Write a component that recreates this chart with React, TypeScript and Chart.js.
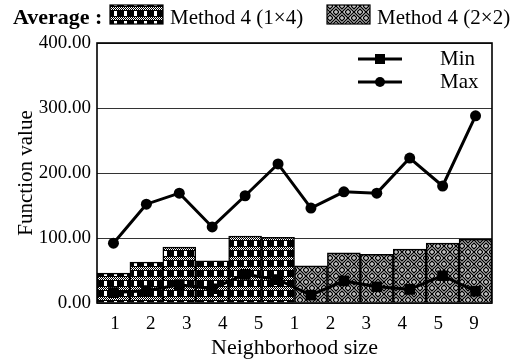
import React, { useEffect, useRef } from 'react';
import { Chart, registerables } from 'chart.js';

Chart.register(...registerables);

// ---- Data ----
const categories = ['1', '2', '3', '4', '5', '9', '1', '2', '3', '4', '5', '9'];
const barMethod = ['1x4', '1x4', '1x4', '1x4', '1x4', '1x4', '2x2', '2x2', '2x2', '2x2', '2x2', '2x2'];
const averageValues = [46, 63, 86, 65, 103, 101, 57, 77, 75, 83, 92, 98];
const minValues = [16, 19, 28, 22, 44, 36, 12, 34, 25, 21, 42, 18];
const maxValues = [92, 152, 169, 117, 165, 214, 146, 171, 169, 223, 180, 288];
const tickLabels = ['1', '2', '3', '4', '5', '1', '2', '3', '4', '5', '9'];
const yMin = 0;
const yMax = 400;
const yStep = 100;

const SERIF = '"Liberation Serif", "Times New Roman", serif';

function makeChecker(): CanvasPattern {
  const c = document.createElement('canvas');
  c.width = 10;
  c.height = 10;
  const g = c.getContext('2d')!;
  g.fillStyle = '#000';
  g.fillRect(0, 0, 10, 10);
  g.fillStyle = '#fff';
  g.fillRect(4, 1, 3, 5);
  for (let y = 7; y < 10; y++) {
    for (let x = 0; x < 10; x++) {
      if ((x + y) % 2 === 0) g.fillRect(x, y, 1, 1);
    }
  }
  return g.createPattern(c, 'repeat')!;
}

function makeWeave(): CanvasPattern {
  const s = 12;
  const h = s / 2;
  const c = document.createElement('canvas');
  c.width = s;
  c.height = s;
  const g = c.getContext('2d')!;
  g.fillStyle = '#fff';
  g.fillRect(0, 0, s, s);
  g.strokeStyle = '#000';
  g.lineWidth = 1.4;
  const cell = (cx: number, cy: number, slash: boolean) => {
    g.save();
    g.beginPath();
    g.rect(cx, cy, h, h);
    g.clip();
    g.beginPath();
    for (let k = -2 * h; k <= 2 * h; k += 3) {
      if (slash) {
        g.moveTo(cx + k, cy + h);
        g.lineTo(cx + k + h, cy);
      } else {
        g.moveTo(cx + k, cy);
        g.lineTo(cx + k + h, cy + h);
      }
    }
    g.stroke();
    g.restore();
  };
  cell(0, 0, true);
  cell(h, 0, false);
  cell(0, h, false);
  cell(h, h, true);
  return g.createPattern(c, 'repeat')!;
}

export default function App() {
  const ref = useRef<HTMLCanvasElement | null>(null);

  useEffect(() => {
    const canvas = ref.current;
    if (!canvas) return;
    const checker = makeChecker();
    const weave = makeWeave();
    const barFills = barMethod.map((m) => (m === '1x4' ? checker : weave));

    const framePlugin = {
      id: 'framePlugin',
      afterDatasetsDraw(chart: any) {
        const { ctx, chartArea } = chart;
        ctx.save();
        ctx.strokeStyle = '#000';
        ctx.lineWidth = 1.6;
        ctx.strokeRect(chartArea.left, chartArea.top, chartArea.right - chartArea.left, chartArea.bottom - chartArea.top);
        ctx.restore();
      },
      afterDraw(chart: any) {
        const { ctx, chartArea } = chart;
        ctx.save();
        // Top legend
        ctx.fillStyle = '#000';
        ctx.textBaseline = 'alphabetic';
        ctx.textAlign = 'left';
        ctx.font = `bold 22px ${SERIF}`;
        ctx.fillText('Average :', 13, 24);
        ctx.fillStyle = checker;
        ctx.fillRect(110, 5, 53, 19);
        ctx.strokeStyle = '#000';
        ctx.lineWidth = 1.2;
        ctx.strokeRect(110, 5, 53, 19);
        ctx.fillStyle = '#000';
        ctx.font = `21px ${SERIF}`;
        ctx.fillText('Method 4 (1\u00D74)', 170, 24);
        ctx.fillStyle = weave;
        ctx.fillRect(327, 5, 43, 19);
        ctx.strokeRect(327, 5, 43, 19);
        ctx.fillStyle = '#000';
        ctx.fillText('Method 4 (2\u00D72)', 377, 24);

        // Inner legend for lines
        const x0 = chartArea.right - 134;
        const entries = [
          { label: 'Min', y: chartArea.top + 16, style: 'rect' },
          { label: 'Max', y: chartArea.top + 39, style: 'circle' },
        ];
        ctx.font = `21px ${SERIF}`;
        ctx.textBaseline = 'middle';
        entries.forEach((e) => {
          ctx.strokeStyle = '#000';
          ctx.lineWidth = 3;
          ctx.beginPath();
          ctx.moveTo(x0, e.y);
          ctx.lineTo(x0 + 44, e.y);
          ctx.stroke();
          ctx.fillStyle = '#000';
          if (e.style === 'rect') {
            ctx.fillRect(x0 + 22 - 5, e.y - 5, 10, 10);
          } else {
            ctx.beginPath();
            ctx.arc(x0 + 22, e.y, 5, 0, Math.PI * 2);
            ctx.fill();
          }
          ctx.fillText(e.label, x0 + 82, e.y);
        });
        ctx.restore();
      },
    };

    const chart = new Chart(canvas, {
      type: 'bar',
      data: {
        labels: categories,
        datasets: [
          {
            type: 'line',
            label: 'Min',
            data: minValues,
            borderColor: '#000',
            backgroundColor: '#000',
            borderWidth: 3,
            pointStyle: 'rect',
            pointRadius: 7.5,
            pointBorderWidth: 0,
            tension: 0,
            order: 1,
          } as any,
          {
            type: 'line',
            label: 'Max',
            data: maxValues,
            borderColor: '#000',
            backgroundColor: '#000',
            borderWidth: 3,
            pointStyle: 'circle',
            pointRadius: 5.5,
            pointBorderWidth: 0,
            tension: 0,
            order: 1,
          } as any,
          {
            type: 'bar',
            label: 'Average',
            data: averageValues,
            backgroundColor: barFills as any,
            borderColor: '#000',
            borderWidth: 1.5,
            categoryPercentage: 1,
            barPercentage: 1,
            order: 2,
          },
        ],
      },
      options: {
        responsive: false,
        animation: false,
        events: [],
        layout: { padding: { top: 43, right: 25, left: 0, bottom: 0 } },
        plugins: {
          legend: { display: false },
          tooltip: { enabled: false },
          title: { display: false },
        },
        scales: {
          x: {
            type: 'category',
            display: false,
            offset: true,
          },
          x2: {
            type: 'category',
            labels: tickLabels,
            position: 'bottom',
            offset: true,
            grid: { display: false, drawTicks: false },
            border: { display: false },
            ticks: {
              color: '#000',
              padding: 10,
              autoSkip: false,
              maxRotation: 0,
              font: { family: SERIF, size: 19 },
            },
            title: {
              display: true,
              text: 'Neighborhood size',
              color: '#000',
              font: { family: SERIF, size: 22 },
              padding: { top: 0, bottom: 0 },
            },
            afterFit(scale: any) {
              scale.height = 58;
            },
          } as any,
          y: {
            min: yMin,
            max: yMax,
            ticks: {
              stepSize: yStep,
              color: '#000',
              padding: 6,
              font: { family: SERIF, size: 19 },
              callback: (v: any) => Number(v).toFixed(2),
            },
            grid: { color: '#333', lineWidth: 1, drawTicks: false },
            border: { display: false },
            title: {
              display: true,
              text: 'Function value',
              color: '#000',
              font: { family: SERIF, size: 21 },
              padding: { top: 14, bottom: 0 },
            },
            afterFit(scale: any) {
              scale.width = 97;
            },
          } as any,
        },
      },
      plugins: [framePlugin],
    });
    return () => chart.destroy();
  }, []);

  return (
    <div style={{ position: 'absolute', left: 0, top: 0, width: 517, height: 361, background: '#fff' }}>
      <canvas ref={ref} width={517} height={361} style={{ display: 'block' }} />
    </div>
  );
}
